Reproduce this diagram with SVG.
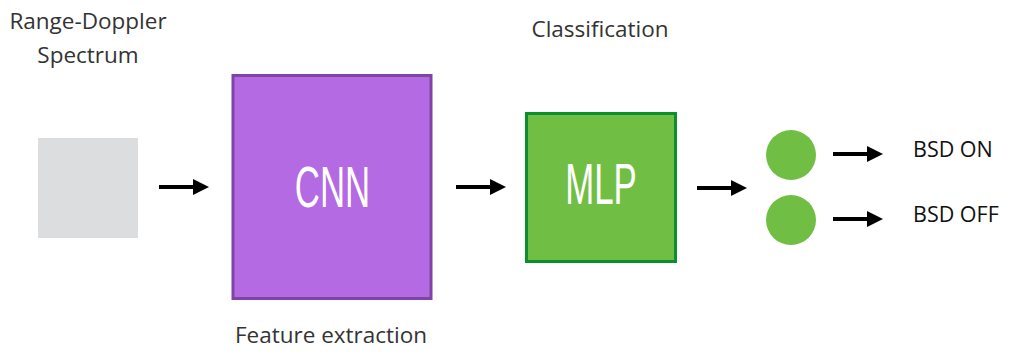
<svg xmlns="http://www.w3.org/2000/svg" width="1009" height="352" viewBox="0 0 1009 352">
<style>
.lbl{font-family:"Open Sans","Noto Sans",sans-serif;font-size:22.5px;fill:#333}
.out{font-size:21.5px;fill:#111}
.big{font-family:"Liberation Sans",sans-serif;font-size:58px;fill:#fff}
.conn{stroke:#000;stroke-width:4;fill:none}
</style>
<defs>
<marker id="ah" markerWidth="4" markerHeight="4" refX="0" refY="2" orient="auto" markerUnits="strokeWidth">
<path d="M0,0 L4,2 L0,4 Z" fill="#000"/>
</marker>
</defs>
<g id="input">
<text class="lbl" x="88" y="29" text-anchor="middle">Range-Doppler</text>
<text class="lbl" x="88" y="63" text-anchor="middle">Spectrum</text>
<rect x="38" y="138" width="100" height="100" fill="#dcdddf"/>
</g>
<g id="cnn">
<rect x="233" y="75.5" width="198" height="223" fill="#b36ae2" stroke="#7e45a4" stroke-width="3"/>
<text class="big" transform="translate(332.5,207) scale(0.6,1)" text-anchor="middle">CNN</text>
<text class="lbl" x="331" y="343" text-anchor="middle">Feature extraction</text>
</g>
<g id="mlp">
<rect x="526.5" y="113.5" width="149" height="148" fill="#70bf44" stroke="#0c8f2d" stroke-width="3"/>
<text class="big" transform="translate(601,204) scale(0.6,1)" text-anchor="middle">MLP</text>
<text class="lbl" x="600" y="37" text-anchor="middle">Classification</text>
</g>
<g id="out-on">
<circle cx="791" cy="155" r="25" fill="#70bf44"/>
<text class="lbl out" x="913" y="157">BSD ON</text>
</g>
<g id="out-off">
<circle cx="791" cy="220" r="25" fill="#70bf44"/>
<text class="lbl out" x="913" y="222">BSD OFF</text>
</g>
<g id="connectors">
<line class="conn" x1="159" y1="187" x2="193" y2="187" marker-end="url(#ah)"/>
<line class="conn" x1="456" y1="187" x2="490" y2="187" marker-end="url(#ah)"/>
<line class="conn" x1="697" y1="188" x2="731" y2="188" marker-end="url(#ah)"/>
<line class="conn" x1="833" y1="154" x2="867" y2="154" marker-end="url(#ah)"/>
<line class="conn" x1="833" y1="219" x2="867" y2="219" marker-end="url(#ah)"/>
</g>
</svg>
